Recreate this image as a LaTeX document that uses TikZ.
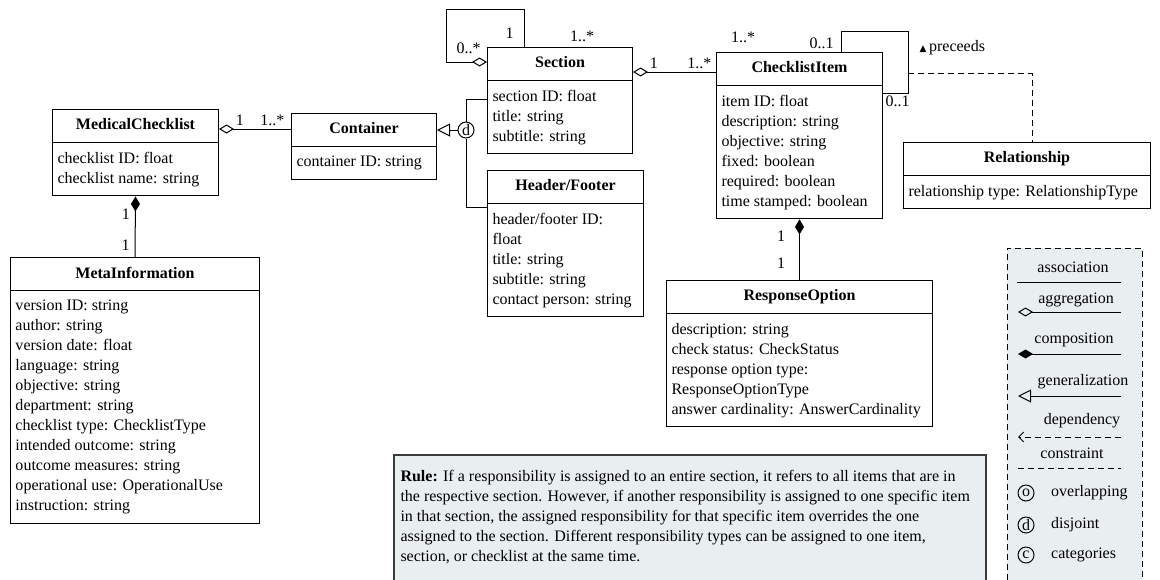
\documentclass[tikz,border=0pt]{standalone}
\usepackage{fontspec}
\setmainfont{Liberation Serif}
\newfontfamily\symfont{DejaVu Sans}
\usetikzlibrary{shapes.multipart,arrows.meta}

\definecolor{notebg}{HTML}{E9EEF1}
\definecolor{noteframe}{HTML}{3C3C3C}

\newcommand{\clsname}[1]{\textbf{#1}\vphantom{g}}

\tikzset{
  umlclass/.style={draw, rectangle split, rectangle split parts=2,
    rectangle split part align={center,left}, align=left,
    anchor=north west, inner xsep=2.5pt, inner ysep=4.4pt},
  mult/.style={inner sep=1.5pt},
  constr/.style={circle, draw, inner sep=0pt, minimum size=8pt},
  aggr/.style={{Diamond[open,length=7.5pt,width=4.5pt]}-},
  comp/.style={{Diamond[length=7.5pt,width=4.5pt]}-},
  gen/.style={-{Triangle[open,length=6.5pt,width=6.5pt]}},
  dep/.style={dash pattern=on 3pt off 2pt, -{Straight Barb[length=2.5pt,width=5pt]}},
  cstr/.style={dash pattern=on 3pt off 2pt}
}

\begin{document}
\begin{tikzpicture}[x=0.5pt, y=-0.5pt, line width=0.5pt,
  every node/.style={font=\fontsize{8}{10}\selectfont}]
\useasboundingbox (0,0) rectangle (1160,579);

% classes
\node[umlclass, minimum width=83pt] (mc) at (52,109)
  {\clsname{MedicalChecklist}\nodepart{two}checklist ID: float\\checklist name: string};
\node[umlclass, minimum width=72.5pt] (cont) at (291,113)
  {\clsname{Container}\nodepart{two}container ID: string};
\node[umlclass, minimum width=124.5pt] (meta) at (10,257)
  {\clsname{MetaInformation}\nodepart{two}version ID: string\\author: string\\version date: float\\language: string\\objective: string\\department: string\\checklist type: ChecklistType\\intended outcome: string\\outcome measures: string\\operational use: OperationalUse\\instruction: string};
\node[umlclass, minimum width=72.5pt] (sec) at (487,47)
  {\clsname{Section}\nodepart{two}section ID: float\\title: string\\subtitle: string};
\node[umlclass, minimum width=78pt] (hf) at (487,170)
  {\clsname{Header/Footer}\nodepart{two}header/footer ID:\\float\\title: string\\subtitle: string\\contact person: string};
\node[umlclass, minimum width=83pt] (item) at (716,52)
  {\clsname{ChecklistItem}\nodepart{two}item ID: float\\description: string\\objective: string\\fixed: boolean\\required: boolean\\time stamped: boolean};
\node[umlclass, minimum width=133pt] (resp) at (666,280)
  {\clsname{ResponseOption}\nodepart{two}description: string\\check status: CheckStatus\\response option type:\\ResponseOptionType\\answer cardinality: AnswerCardinality};
\node[umlclass, minimum width=123.5pt] (rel) at (903,142)
  {\clsname{Relationship}\nodepart{two}relationship type: RelationshipType};
\node[constr] (dj) at (466,130) {d};

% associations
\draw[aggr] ([yshift=-10pt]mc.north east) -- ([yshift=-8pt]cont.north west)
  node[mult, pos=0.29, above] {1} node[mult, pos=0.74, above] {1..*};
\draw[comp] (mc.south) -- (meta.north)
  node[mult, pos=0.3, left=1pt] {1} node[mult, pos=0.81, left=1pt] {1};
\draw[gen] (dj) -- (dj -| cont.east);
\draw (dj) |- ([yshift=-26pt]sec.north west);
\draw (dj) |- ([yshift=-18.5pt]hf.north west);
\draw[aggr] ([yshift=-7.5pt]sec.north west) -- ++(-41,0) -- ++(0,-53)
  -| ([xshift=18.5pt]sec.north west) node[mult, pos=0.82, left=3.5pt] {1};
\node[mult, anchor=south east] (secmany) at ([xshift=-1.5pt,yshift=-5pt]sec.north west) {0..*};
\node[mult] (secitem) at ([xshift=-25.5pt,yshift=5.5pt]sec.north east) {1..*};
\draw[aggr] ([yshift=-12.5pt]sec.north east) -- ([yshift=-10pt]item.north west)
  node[mult, pos=0.25, above] {1} node[mult, pos=0.8, above] {1..*};
\node[mult] (itemmany) at ([xshift=13.5pt,yshift=7.5pt]item.north west) {1..*};
\draw ([xshift=-21pt]item.north east) -- ++(0,-21) node[mult, pos=0.43, left=2pt] {0..1}
  -- ++(67,0) -- ++(0,62) coordinate[pos=0.69] (precpt)
  -- ([yshift=-20.5pt]item.north east) node[mult, pos=1, below right, inner sep=1pt] {0..1};
\node[anchor=west, inner sep=0pt] (prec) at ([xshift=18pt,yshift=2pt]item.north east)
  {{\symfont\fontsize{4.5}{5}\selectfont ▲}\,preceeds};
\draw[cstr] (precpt) -| ([xshift=2.5pt]rel.north);
\draw[comp] (item.south) -- (resp.north)
  node[mult, pos=0.28, left=5.5pt] {1} node[mult, pos=0.72, left=5.5pt] {1};

% rule note
\fill[notebg] (394,455) rectangle (986,590);
\draw[noteframe, line width=0.7pt] (394,590) |- (986,455) -- (986,590);
\node[anchor=north west, align=left, inner sep=0pt] (rule) at (400,470)
  {\textbf{Rule:} If a responsibility is assigned to an entire section, it refers to all items that are in\\
   the respective section. However, if another responsibility is assigned to one specific item\\
   in that section, the assigned responsibility for that specific item overrides the one\\
   assigned to the section. Different responsibility types can be assigned to one item,\\
   section, or checklist at the same time.};

% legend
\draw[cstr, fill=notebg] (1007,590) |- (1142,248) -- (1142,590);
\node (lgass) at (1073,267) {association};
\draw (1017,282) -- (1121,282);
\node (lgagg) at (1076,300) {aggregation};
\draw[aggr] (1018,312) -- (1121,312);
\node (lgcomp) at (1074,340) {composition};
\draw[comp] (1018,354) -- (1121,354);
\node (lggen) at (1083,382) {generalization};
\draw[gen] (1121,396) -- (1018,396);
\node (lgdep) at (1082,421) {dependency};
\draw[dep] (1121,437) -- (1018,437);
\node (lgcon) at (1072,453) {constraint};
\draw[cstr] (1018,468) -- (1121,468);
\node[constr] (lgo) at (1026,493) {o};
\node[anchor=west] (lgotxt) at (1044,493) {overlapping};
\node[constr] (lgd) at (1026,525) {d};
\node[anchor=west] (lgdtxt) at (1044,525) {disjoint};
\node[constr] (lgc) at (1026,555) {c};
\node[anchor=west] (lgctxt) at (1044,555) {categories};
\end{tikzpicture}
\end{document}
